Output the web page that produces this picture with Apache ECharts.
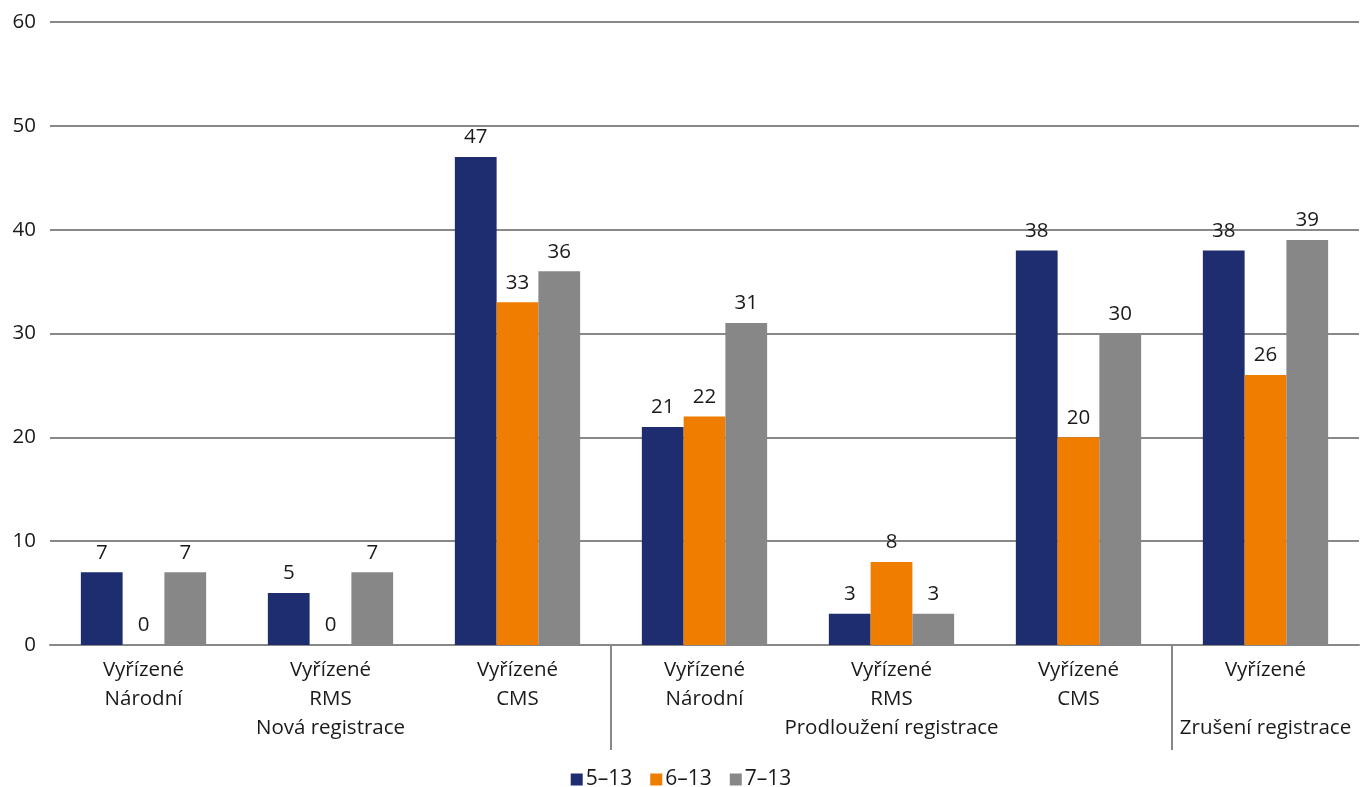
<!DOCTYPE html>
<html>
<head>
<meta charset="utf-8">
<script src="https://cdn.jsdelivr.net/npm/echarts@6/dist/echarts.min.js"></script>
<style>
html, body { margin: 0; padding: 0; background: #fff; }
#chart { width: 1362px; height: 787px; }
</style>
</head>
<body>
<div id="chart"></div>
<script>
// Category labels (line 1 / line 2 / group name)
const categories = [
  'Vyřízené\nNárodní',
  'Vyřízené\nRMS\nNová registrace',
  'Vyřízené\nCMS',
  'Vyřízené\nNárodní',
  'Vyřízené\nRMS\nProdloužení registrace',
  'Vyřízené\nCMS',
  'Vyřízené\n\nZrušení registrace'
];
const seriesNames = ['5–13', '6–13', '7–13'];
const values513 = [7, 5, 47, 21, 3, 38, 38];
const values613 = [0, 0, 33, 22, 8, 20, 26];
const values713 = [7, 7, 36, 31, 3, 30, 39];
const yTicks = [0, 10, 20, 30, 40, 50, 60];

// First category index of each registration group after the first one
const groupStarts = [3, 6];

const colors = ['#1e2d6f', '#ef7d00', '#878787'];
const FONT = 'Open Sans';
const FS = 20.5;

const chart = echarts.init(document.getElementById('chart'));

function barSeries(name, data, color) {
  return {
    name: name,
    type: 'bar',
    data: data,
    barGap: '0%',
    barCategoryGap: '33%',
    itemStyle: { color: color },
    label: {
      show: true,
      position: 'top',
      distance: 9,
      color: '#1a1a1a',
      fontFamily: FONT,
      fontSize: FS
    }
  };
}

chart.setOption({
  animation: false,
  textStyle: { fontFamily: FONT },
  grid: { left: 50, right: 3, top: 22, bottom: 142 },
  legend: {
    top: 764,
    left: 'center',
    icon: 'rect',
    itemWidth: 12,
    itemHeight: 12,
    itemGap: 18,
    textStyle: { fontFamily: FONT, fontSize: 21, color: '#1a1a1a', padding: [0, 0, 0, -2] },
    data: seriesNames
  },
  xAxis: {
    type: 'category',
    data: categories,
    axisLine: { show: true, lineStyle: { color: '#888', width: 2 } },
    axisTick: { show: false },
    axisLabel: {
      interval: 0,
      margin: 11,
      color: '#1a1a1a',
      fontFamily: FONT,
      fontSize: FS,
      lineHeight: 29
    }
  },
  yAxis: {
    type: 'value',
    min: yTicks[0],
    max: yTicks[yTicks.length - 1],
    interval: 10,
    axisLine: { show: false },
    axisTick: { show: false },
    axisLabel: {
      margin: 14,
      color: '#1a1a1a',
      fontFamily: FONT,
      fontSize: FS
    },
    splitLine: { lineStyle: { color: '#888', width: 2 } }
  },
  series: [
    barSeries(seriesNames[0], values513, colors[0]),
    barSeries(seriesNames[1], values613, colors[1]),
    barSeries(seriesNames[2], values713, colors[2])
  ]
});

// Vertical separators between registration groups, placed halfway
// between neighbouring category centres on the x axis.
const y0 = chart.convertToPixel({ yAxisIndex: 0 }, 0);
const separators = groupStarts.map(function (i) {
  const xa = chart.convertToPixel({ xAxisIndex: 0 }, i - 1);
  const xb = chart.convertToPixel({ xAxisIndex: 0 }, i);
  const x = Math.round((xa + xb) / 2);
  return {
    type: 'line',
    shape: { x1: x, y1: y0, x2: x, y2: y0 + 105 },
    style: { stroke: '#888', lineWidth: 2 }
  };
});
chart.setOption({ graphic: separators });
</script>
</body>
</html>
